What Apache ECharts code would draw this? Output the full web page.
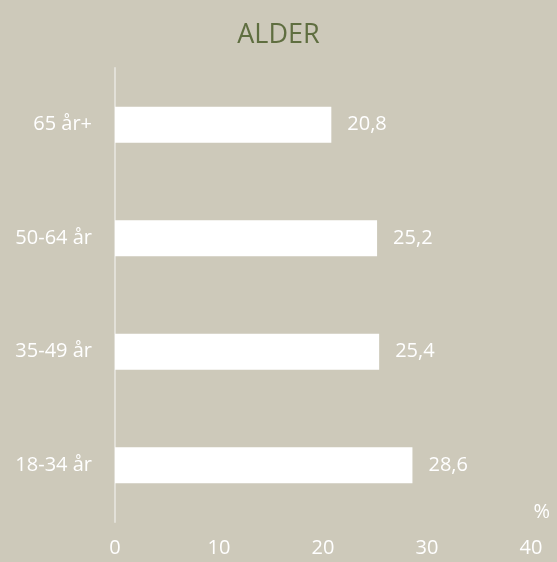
<!DOCTYPE html>
<html>
<head>
<meta charset="utf-8">
<script src="https://cdn.jsdelivr.net/npm/echarts@6/dist/echarts.min.js"></script>
<style>
  html, body { margin: 0; padding: 0; background: #cdc9ba; }
  #chart { width: 557px; height: 562px; }
</style>
</head>
<body>
<div id="chart"></div>
<script>
// data
const categories = ["18-34 år", "35-49 år", "50-64 år", "65 år+"];
const values = [28.6, 25.4, 25.2, 20.8];
const xTicks = [0, 10, 20, 30, 40];

const chart = echarts.init(document.getElementById("chart"));
const font = "'Open Sans', sans-serif";

chart.setOption({
  backgroundColor: "#cdc9ba",
  title: {
    text: "ALDER",
    left: "center",
    top: 17,
    textStyle: { color: "#5f6e40", fontSize: 27, fontWeight: "normal", fontFamily: font },
  },
  grid: { left: 115, right: 26, top: 68, bottom: 40 },
  xAxis: {
    type: "value",
    min: xTicks[0],
    max: xTicks[xTicks.length - 1],
    interval: 10,
    axisLine: { show: false },
    axisTick: { show: false },
    splitLine: { show: false },
    axisLabel: { color: "#ffffff", fontSize: 20, margin: 16, fontFamily: font },
  },
  yAxis: {
    type: "category",
    data: categories,
    axisLine: { show: true, lineStyle: { color: "#e2e0d8", width: 2 } },
    axisTick: { show: false },
    axisLabel: { color: "#ffffff", fontSize: 20, margin: 23, fontFamily: font },
  },
  graphic: [
    {
      type: "text",
      right: 7,
      top: 502,
      style: { text: "%", fill: "#ffffff", fontSize: 20, fontFamily: font },
    },
  ],
  series: [
    {
      type: "bar",
      data: values,
      barWidth: 36,
      itemStyle: { color: "#ffffff" },
      label: {
        show: true,
        position: "right",
        distance: 16,
        color: "#ffffff",
        fontSize: 20,
        fontFamily: font,
        formatter: (p) => String(p.value).replace(".", ","),
      },
    },
  ],
});
</script>
</body>
</html>
